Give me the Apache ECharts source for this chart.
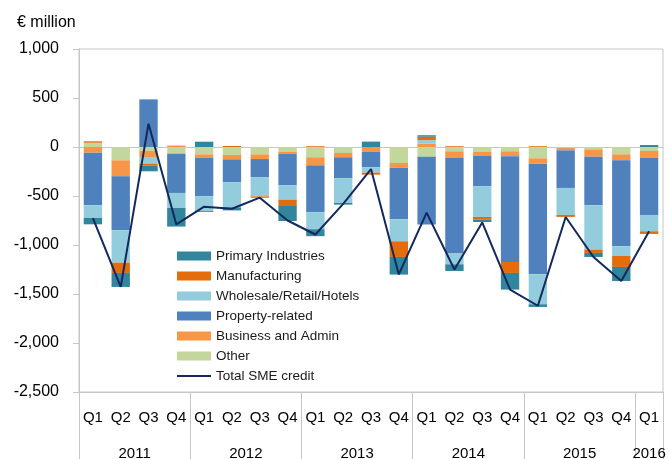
<!DOCTYPE html>
<html>
<head>
<meta charset="utf-8">
<script src="https://cdn.jsdelivr.net/npm/echarts@6/dist/echarts.min.js"></script>
<style>
	html, body { margin: 0; padding: 0; background: #fff; }
	#main { width: 669px; height: 459px; }
</style>
</head>
<body>
<div id="main"></div>
<script>
	/* 数据 */
	var quarters = ['Q1','Q2','Q3','Q4','Q1','Q2','Q3','Q4','Q1','Q2','Q3','Q4','Q1','Q2','Q3','Q4','Q1','Q2','Q3','Q4','Q1'];
	var years = ['2011','2012','2013','2014','2015','2016'];
	var yearQuarters = [4, 4, 4, 4, 4, 1];

	var primary       = [-65, -143, -58, -190, 54, -31, 0, -153, -71, -17, 55, -180, 15, -68, -24, -170, -27, 0, -41, -143, 20];
	var manufacturing = [14, -105, -20, 0, -10, 10, -14, -65, 8, 0, -20, -160, 35, 8, -27, -112, 8, -20, -34, -112, -27];
	var wholesale     = [-129, -330, -68, -153, -150, -255, -194, -146, -173, -252, -54, -224, 35, -109, -313, 0, -306, -275, -452, -99, -167];
	var property      = [-537, -551, 486, -401, -394, -235, -187, -323, -479, -214, -160, -527, -690, -976, -309, -1078, -1129, -384, -496, -877, -581];
	var business      = [-58, -163, -61, 15, -34, -44, -48, -20, -82, -44, -48, -48, 35, -68, -41, -51, -54, -24, -75, -61, -71];
	var other         = [44, -136, -41, -68, -75, -82, -75, -48, -105, -61, 0, -163, -100, -44, -51, -44, -116, -10, -24, -75, -41];
	var totalSme      = [-725, -1428, 238, -790, -609, -630, -517, -750, -893, -580, -225, -1300, -670, -1250, -770, -1455, -1620, -714, -1122, -1367, -860];

	var FONT = 'Liberation Sans';
	var GRAY = '#c6c6c6';
	var NAVY = '#13285c';

	// 年份标签位置(以季度为单位的中点)
	var yearCenters = [];
	var acc = 0;
	for (var i = 0; i < years.length; i++) {
		yearCenters.push(acc + yearQuarters[i] / 2);
		acc += yearQuarters[i];
	}

	function barSeries(name, data, color) {
		return {
			name: name,
			type: 'bar',
			stack: 'sme',
			xAxisIndex: 0,
			barCategoryGap: '34%',
			itemStyle: { color: color },
			data: data
		};
	}

	var myChart = echarts.init(document.getElementById('main'));
	var option = {
		animation: false,
		title: {
			text: '€ million',
			left: 12,
			top: 10,
			textStyle: { fontFamily: FONT, fontSize: 16, fontWeight: 'normal', color: '#000' }
		},
		legend: {
			orient: 'vertical',
			left: 172,
			top: 244,
			itemWidth: 34,
			itemHeight: 9,
			itemGap: 6,
			textStyle: { fontFamily: FONT, fontSize: 13.5, lineHeight: 14, color: '#1a1a1a' },
			data: [
				{ name: 'Primary Industries', icon: 'rect' },
				{ name: 'Manufacturing', icon: 'rect' },
				{ name: 'Wholesale/Retail/Hotels', icon: 'rect' },
				{ name: 'Property-related', icon: 'rect' },
				{ name: 'Business and Admin', icon: 'rect' },
				{ name: 'Other', icon: 'rect' },
				{ name: 'Total SME credit', icon: 'path://M0,0H34V2H0Z' }
			]
		},
		grid: {
			left: 79,
			right: 6,
			top: 49,
			bottom: 67,
			outerBoundsMode: 'none',
			show: true,
			borderColor: GRAY,
			borderWidth: 1
		},
		xAxis: [
			{
				type: 'category',
				data: quarters,
				position: 'bottom',
				axisLine: { onZero: false, lineStyle: { color: GRAY } },
				axisTick: {
					show: true,
					length: 67,
					interval: function (index) { return index % 4 === 0; },
					lineStyle: { color: GRAY }
				},
				axisLabel: { interval: 0, margin: 18, fontFamily: FONT, fontSize: 15, color: '#000' },
				splitLine: { show: false }
			},
			{
				type: 'value',
				min: 0,
				max: quarters.length,
				interval: 0.5,
				position: 'bottom',
				axisLine: { show: false, onZero: false },
				axisTick: { show: false },
				splitLine: { show: false },
				axisLabel: {
					margin: 54,
					fontFamily: FONT,
					fontSize: 15,
					color: '#000',
					formatter: function (v) {
						for (var k = 0; k < yearCenters.length; k++) {
							if (Math.abs(yearCenters[k] - v) < 0.01) return years[k];
						}
						return '';
					}
				}
			},
			{
				// 零线
				type: 'category',
				data: quarters,
				axisLine: { onZero: true, lineStyle: { color: GRAY } },
				axisTick: { show: false },
				axisLabel: { show: false },
				splitLine: { show: false }
			}
		],
		yAxis: {
			type: 'value',
			min: -2500,
			max: 1000,
			interval: 500,
			axisLine: { show: true, onZero: false, lineStyle: { color: GRAY } },
			axisTick: { show: true, length: 6, lineStyle: { color: GRAY } },
			splitLine: { show: false },
			axisLabel: {
				margin: 20,
				fontFamily: FONT,
				fontSize: 16,
				color: '#000',
				formatter: function (v) { return v.toLocaleString('en-US'); }
			}
		},
		series: [
			barSeries('Other', other, '#c3d69b'),
			barSeries('Business and Admin', business, '#f79646'),
			barSeries('Property-related', property, '#4f81bd'),
			barSeries('Wholesale/Retail/Hotels', wholesale, '#93cddd'),
			barSeries('Manufacturing', manufacturing, '#e46c0a'),
			barSeries('Primary Industries', primary, '#31859c'),
			{
				name: 'Total SME credit',
				type: 'line',
				xAxisIndex: 0,
				symbol: 'none',
				z: 5,
				lineStyle: { color: NAVY, width: 2 },
				itemStyle: { color: NAVY },
				data: totalSme
			}
		]
	};
	myChart.setOption(option);
</script>
</body>
</html>
